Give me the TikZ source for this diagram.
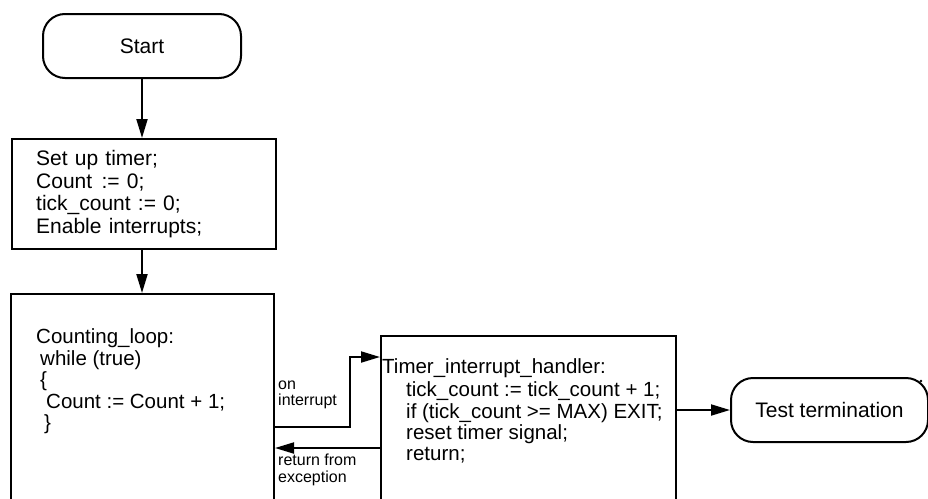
\documentclass[tikz,border=0pt]{standalone}
\usepackage{fontspec}
\setmainfont{Liberation Sans}
\usetikzlibrary{arrows.meta}
\newcommand\mywidesp{\spaceskip 7.2pt plus 1pt\relax}
\begin{document}
\begin{tikzpicture}[x=1pt,y=-1pt,
  box/.style={draw,line width=2pt,rectangle,inner sep=0pt,anchor=north west},
  term/.style={draw,line width=2pt,rectangle,rounded corners=22pt,inner sep=0pt,anchor=north west,font=\fontsize{21}{23}\selectfont},
  txt/.style={anchor=base west,inner sep=0pt,font=\fontsize{20.5}{23}\selectfont},
  wtxt/.style={anchor=base west,inner sep=0pt,font={\fontsize{21}{23}\selectfont\mywidesp}},
  lbl/.style={anchor=base west,inner sep=0pt,font=\fontsize{16}{17}\selectfont},
  conn/.style={line width=2pt,-{Triangle[length=19pt,width=11pt]}}]
\useasboundingbox (0,0) rectangle (928,498);
\clip (0,0) rectangle (928,498);

% nodes
\node[term, minimum width=198pt, minimum height=64pt] (start) at (42,13) {Start};
\node[box, minimum width=264pt, minimum height=110pt] (setup) at (11,138) {};
\node[box, minimum width=263pt, minimum height=240pt] (loop) at (10,293) {};
\node[box, minimum width=295pt, minimum height=200pt] (timer) at (380,335) {};
\node[term, minimum width=197pt, minimum height=64pt] (tt) at (730,377) {Test termination};

% texts
\node[wtxt] (s1) at (36,165) {Set up timer;};
\node[wtxt] (s2) at (36,188) {Count\hspace{0.45em}:= 0;};
\node[wtxt] (s3) at (36,210) {tick\_count := 0;};
\node[wtxt] (s4) at (36,233) {Enable interrupts;};

\node[txt] (l1) at (36,343) {Counting\_loop:};
\node[txt] (l2) at (40,365) {while (true)};
\node[txt] (l3) at (40,386) {\{};
\node[txt] (l4) at (46,408) {Count := Count + 1;};
\node[txt] (l5) at (44,429) {\}};

\node[txt] (h1) at (382,373) {Timer\_interrupt\_handler:};
\node[txt] (h2) at (406,396) {tick\_count := tick\_count + 1;};
\node[txt] (h3) at (406,418) {if (tick\_count >= MAX) EXIT;};
\node[txt] (h4) at (406,439) {reset timer signal;};
\node[txt] (h5) at (406,460) {return;};

\node[lbl] (on1) at (278,389) {on};
\node[lbl] (on2) at (278,405) {interrupt};
\node[lbl] (rf1) at (278,465) {return from};
\node[lbl] (rf2) at (278,482) {exception};

% connectors
\draw[conn] (start.south) -- (start.south |- setup.north);
\draw[conn] (start.south |- setup.south) -- (start.south |- loop.north);

\coordinate (oiA) at (loop.east |- 0,427);
\coordinate (oiB) at (350,357);
\coordinate (oiC) at (timer.west |- oiB);
\draw[conn] (oiA) -| (oiB) -- (oiC);

\coordinate (rtA) at (timer.west |- 0,448);
\coordinate (rtB) at (loop.east |- rtA);
\draw[conn] (rtA) -- (rtB);

\coordinate (exA) at (timer.east |- tt.west);
\draw[conn] (exA) -- (tt.west);

\fill (921,381) circle (1.4pt);
\end{tikzpicture}
\end{document}
